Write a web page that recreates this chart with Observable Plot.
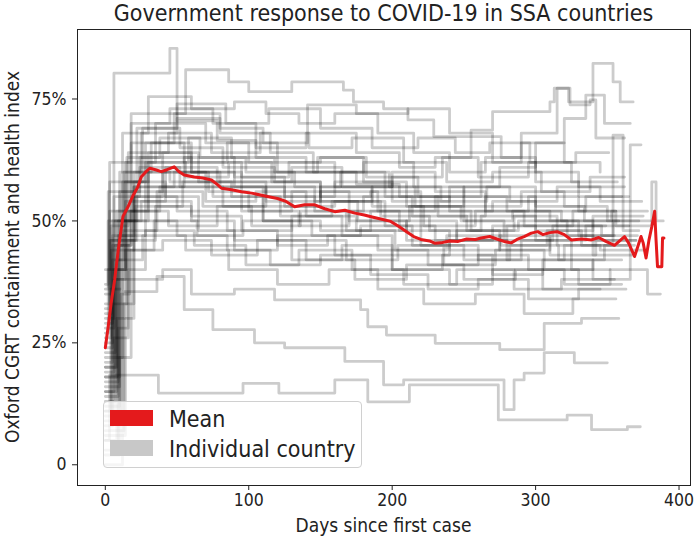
<!DOCTYPE html>
<html>
<head>
<meta charset="utf-8">
<script src="https://cdn.jsdelivr.net/npm/d3@7"></script>
<script src="https://cdn.jsdelivr.net/npm/@observablehq/plot@0.6"></script>
<style>
  body { margin: 0; background: #fff; }
  #wrap { position: relative; width: 698px; height: 541px; font-family: "DejaVu Sans", sans-serif; }
  #legend { position: absolute; left: 103px; top: 401px; width: 259px; height: 67px; border: 1px solid #d0d0d0; border-radius: 4px; background: rgba(255,255,255,0.8); box-sizing: border-box; }
  .sw { position: absolute; left: 6px; width: 43px; height: 16px; }
  .lt { position: absolute; left: 65px; font-size: 23px; color: #222; line-height: 26px; white-space: nowrap; transform: scaleX(0.9); transform-origin: 0 50%; }
</style>
</head>
<body>
<div id="wrap"></div>
<script>
// ---- Data ----
const titleText = "Government response to COVID-19 in SSA countries";
const xLabel = "Days since first case";
const yLabel = "Oxford CGRT containment and health index";
const xTicks = [0, 100, 200, 300, 400];
const yTicks = [0, 25, 50, 75];
const legendLabels = ["Mean", "Individual country"];

// Individual countries: [day, index %] change points (step lines)
const c01 = [[0,11],[4,30],[6,80.3],[45,85.4],[50,70.5],[78,66.5],[105,63],[140,60],[175,57.5],[205,55],[240,52],[270,54],[300,50],[330,47],[355,47]];
const c02 = [[0,20],[7,50],[18,72],[56,81],[86,78.5],[100,76.5],[130,78.5],[166,76.8],[173,74.4],[194,73],[211,70.7],[229,67.3],[276,63],[300,60],[330,57],[362,57]];
const c03 = [[0,25],[5,45],[12,68],[30,75.5],[60,73],[90,74.4],[112,72],[135,70],[160,72],[190,68],[215,64],[240,60],[265,63],[290,66],[320,62],[345,60]];
const c04 = [[0,18],[10,60],[25,68],[50,71],[80,69],[110,66],[141,73.8],[175,72],[211,73],[240,68],[270,62],[300,58],[330,55],[360,55]];
const c05 = [[0,5],[8,40],[14,62],[35,70],[70,66],[100,62],[150,63],[180,58],[210,53],[250,55],[280,52],[310,50],[340,46],[370,46]];
const c06 = [[0,30],[3,58],[28,66],[55,62],[85,66],[120,60],[160,57],[200,60],[230,56],[265,52],[295,55],[330,52],[356,52]];
const c07 = [[0,15],[6,38],[10,56],[40,64],[65,58],[95,52],[130,56],[170,50],[210,46],[245,48],[275,44],[310,47],[340,43],[368,43]];
const c08 = [[0,22],[12,48],[20,60],[45,58],[75,55],[110,50],[150,48],[185,52],[220,45],[260,42],[290,46],[325,40],[352,40]];
const c09 = [[0,8],[5,33],[15,50],[30,64],[60,60],[90,57],[125,53],[160,54],[195,49],[230,46],[270,49],[300,46],[335,49],[365,49]];
const c10 = [[0,12],[10,45],[18,66],[48,72],[80,68],[115,64],[145,60],[180,62],[215,57],[250,53],[290,56],[320,53],[350,50],[372,50]];
const c11 = [[0,35],[4,46],[22,55],[50,52],[85,48],[120,45],[155,47],[190,44],[225,41],[260,43],[295,40],[330,37],[360,37]];
const c12 = [[0,3],[9,28],[16,46],[35,53],[60,50],[90,46],[130,42],[165,45],[200,40],[240,37],[270,40],[305,36],[345,36]];
const c13 = [[0,27],[2,40],[14,58],[26,69],[52,65],[82,61],[118,58],[150,55],[185,56],[220,52],[255,48],[285,51],[315,49],[349,49]];
const c14 = [[0,10],[11,35],[17,52],[38,57],[70,54],[105,56],[140,51],[175,48],[210,50],[245,46],[280,49],[315,45],[345,44],[376,44]];
const c15 = [[0,0],[12,35.5],[36,38.6],[55,31.8],[75,27.7],[104,25],[125,24],[167,21.2],[194,16.4],[208,17.4],[278,11.3],[285,17.4],[292,18.8],[306,23],[327,20.9],[350,20.9]];
const c16 = [[0,5],[3,18.4],[37,14.7],[96,16.7],[121,14.7],[160,17.4],[183,12.9],[212,16.4],[274,9.2],[322,10.2],[339,7.2],[364,7.8],[373,7.8]];
const c17 = [[0,16],[10,38],[40,40],[60,35],[90,36],[118,33.8],[178,31.8],[183,28.3],[196,26.6],[230,24.9],[275,23.6],[306,29],[332,30],[358,30]];
const c18 = [[0,20],[8,52],[30,60],[70,57],[110,53],[150,56],[190,52],[230,55],[262,62],[290,68],[315,77.2],[323,74.4],[340,82.3],[354,78.5],[359,74.4],[368,74.4]];
const c19 = [[0,28],[6,55],[24,63],[60,60],[95,58],[130,61],[165,57],[200,59],[235,63],[255,68.6],[270,72.4],[310,74.4],[313,77.2],[324,73.8],[338,74.8],[342,67],[362,67]];
const c20 = [[0,14],[9,47],[20,57],[55,63],[90,59],[125,55],[160,58],[200,54],[240,57],[275,61],[300,66],[320,71],[335,75.8],[348,70],[366,70]];
const c21 = [[0,24],[5,50],[25,54],[60,51],[95,48],[130,51],[165,47],[200,43],[240,46],[280,42],[320,45],[354,67.6],[361,48],[372,48]];
const c22 = [[0,31],[4,44],[20,50],[50,47],[85,44],[120,47],[160,43],[200,40],[235,43],[270,39],[305,42],[340,38],[366,65.6],[373.5,65.6]];
const c23 = [[0,40],[3,62],[18,70],[45,73],[75,70],[105,65],[140,68],[175,64],[205,61],[230,63],[260,59],[295,62],[325,58],[357,58]];
const c24 = [[0,6],[14,30],[20,55],[40,60],[72,56],[100,52],[135,49],[170,52],[205,48],[240,44],[275,47],[310,43],[342,46],[370,46]];
const c25 = [[0,18],[8,42],[13,60],[32,66],[60,62],[95,59],[128,62],[160,60],[195,55],[232,51],[265,55],[300,52],[335,55],[365,55]];
const c26 = [[0,9],[6,26],[16,40],[28,48],[62,45],[98,41],[135,44],[172,40],[208,37],[245,40],[285,36],[318,38],[355,38]];
const c27 = [[0,33],[3,52],[20,58],[42,55],[65,48],[90,44],[115,41],[150,43],[185,39],[225,36],[260,38],[295,34],[330,36],[363,36]];
const c28 = [[0,21],[5,47],[28,62],[58,67],[88,63],[118,60],[148,63],[182,59],[218,55],[250,57],[282,54],[315,57],[345,54],[374,54]];
const c29 = [[0,13],[7,38],[14,54],[42,61],[78,58],[112,55],[146,52],[180,55],[214,51],[252,48],[288,50],[322,47],[354,50],[380,50]];
const c30 = [[0,26],[4,49],[16,64],[44,68],[74,64],[108,68],[142,65],[172,67],[208,62],[238,58],[270,60],[304,56],[338,59],[362,59]];
const c31 = [[0,37],[2,56],[24,61],[52,57],[82,53],[112,57],[146,54],[176,50],[212,53],[248,50],[278,46],[312,49],[346,47],[371,47]];
const c32 = [[0,2],[10,22],[18,44],[34,50],[64,47],[96,50],[130,46],[168,42],[204,45],[236,41],[272,44],[306,40],[340,42],[360,42]];
const c33 = [[0,17],[9,50],[22,69],[50,74],[84,70],[114,73],[150,69],[186,65],[218,67],[244,64],[268,66],[296,62],[328,64],[351,64]];
const c34 = [[0,29],[5,42],[26,47],[56,44],[86,40],[120,37],[156,40],[190,36],[222,33],[258,35],[292,31],[326,34],[356,34]];
const c35 = [[0,11],[4,36],[12,58],[30,62],[56,59],[86,62],[116,58],[150,54],[186,57],[216,53],[250,50],[284,52],[318,50],[353,52],[378,52]];
const c36 = [[0,23],[7,45],[18,52],[44,49],[78,53],[110,50],[144,47],[178,49],[214,45],[250,42],[282,45],[316,42],[348,45],[369,45]];
const c37 = [[0,7],[13,33],[20,48],[36,56],[68,53],[102,49],[136,52],[168,48],[202,44],[238,47],[276,45],[308,48],[340,51],[375,51]];
const c38 = [[0,19],[6,40],[15,63],[38,67],[66,63],[98,60],[132,57],[164,60],[198,57],[234,54],[266,57],[300,53],[334,50],[358,50]];
const c39 = [[0,32],[3,46],[21,53],[54,58],[88,55],[122,51],[158,54],[192,51],[226,48],[262,51],[300,48],[332,45],[364,45]];
const c40 = [[0,15],[8,30],[14,44],[40,46],[74,43],[106,46],[140,42],[174,38],[210,41],[250,38],[286,40],[320,37],[352,40],[378,35],[387,35]];
const c41 = [[0,36],[2,50],[20,57],[48,60],[80,57],[112,54],[150,57],[186,53],[222,49],[258,52],[292,49],[326,52],[356,49],[381,58],[384,50],[389,50]];

// Mean across countries: [day, index %]
const meanDays = [0,2,4,6.5,9,12.3,15.8,19,22.7,25,28,31,35,39,43,48,51,55,62,68,74,78,81,88,95,102,113,120,126,132,139,146,153,160,167,174,180.5,186,192,199,205,210,215,220,226,230,234,240,246,252,258,262,268,273,278,283,287,292,297,301.5,305,310,315,320,325,332,339,344,349,355,359,362,365,369,371,373.5,375,377,379,381,383,384,385,388,388.5,389.5];
const meanVals = [24,28.3,33,37.9,44,50.9,52.9,55,57,59,60,60.8,60.5,60.1,60.5,61.1,60.2,59.4,59,58.8,58.4,57.5,56.7,56.4,56,55.7,55,54.6,54,52.9,53.3,53.3,52.5,51.9,52.2,51.6,51.2,50.8,50.4,49.9,48.8,47.8,46.8,46.2,45.9,45.4,45.5,45.9,45.8,46.3,46.2,46.5,46.8,46.3,45.8,45.5,46.2,46.8,47.5,47.8,47.2,47.6,47.8,47.2,46.1,46.3,46.1,46.6,45.8,45,46,46.8,45.4,42.7,44.5,46.8,45.5,42.4,46,48.8,52,46,40.6,40.6,46.5,46.5];

const countries = [c01,c02,c03,c04,c05,c06,c07,c08,c09,c10,c11,c12,c13,c14,c15,c16,c17,c18,c19,c20,c21,c22,c23,c24,c25,c26,c27,c28,c29,c30,c31,c32,c33,c34,c35,c36,c37,c38,c39,c40,c41];

const rows = countries.flatMap((c, i) => c.map(([day, value]) => ({id: i, day, value})));
const meanRows = meanDays.map((day, i) => ({day, value: meanVals[i]}));

const MEAN_COLOR = "#e41a1c";
const W = 698, H = 541;
const chart = Plot.plot({
  width: W, height: H,
  marginLeft: 77, marginRight: 8, marginTop: 29, marginBottom: 56,
  style: {fontFamily: "DejaVu Sans, sans-serif", fontSize: "17.5px", color: "#222", background: "white"},
  x: {domain: [-19.4, 408], ticks: xTicks, tickFormat: d => String(d), tickSize: 5, tickPadding: 3, label: null},
  y: {domain: [-4.25, 89.25], ticks: yTicks, tickFormat: d => d === 0 ? "0" : d + "%", tickSize: 5, tickPadding: 6, label: null},
  marks: [
    Plot.line(rows, {x: "day", y: "value", z: "id", curve: "step-after", stroke: "black", strokeOpacity: 0.2, strokeWidth: 2.8}),
    Plot.line(meanRows, {x: "day", y: "value", stroke: MEAN_COLOR, strokeWidth: 3}),
    Plot.frame({stroke: "#222", strokeWidth: 1})
  ]
});

const wrap = document.getElementById("wrap");
wrap.appendChild(chart);
const svg = d3.select(chart);

// condense axis tick labels slightly (matches the reference's narrow glyphs)
svg.selectAll("g[aria-label*='axis'] text, g[aria-label*='tick label'] text").each(function() {
  const t = this.getAttribute("transform");
  if (t && /translate/.test(t)) {
    this.setAttribute("transform", t + " scale(0.9,1)");
  } else {
    const x = +this.getAttribute("x") || 0, y = +this.getAttribute("y") || 0;
    this.removeAttribute("x"); this.removeAttribute("y");
    this.setAttribute("transform", `translate(${x},${y}) scale(0.9,1)`);
  }
});

svg.append("text").attr("transform", "translate(383.5,21) scale(0.9,1)").attr("text-anchor", "middle")
  .attr("font-size", 23).attr("fill", "#222").text(titleText);
svg.append("text").attr("transform", "translate(383.5,532) scale(0.9,1)").attr("text-anchor", "middle")
  .attr("font-size", 19).attr("fill", "#222").text(xLabel);
svg.append("text").attr("transform", "translate(19,257) rotate(-90) scale(0.9,1)").attr("text-anchor", "middle")
  .attr("font-size", 19).attr("fill", "#222").text(yLabel);

const legend = document.createElement("div");
legend.id = "legend";
legend.innerHTML = `
  <div class="sw" style="top:8px;background:${MEAN_COLOR}"></div>
  <div class="lt" style="top:4px">${legendLabels[0]}</div>
  <div class="sw" style="top:38px;background:#c8c8c8"></div>
  <div class="lt" style="top:34px">${legendLabels[1]}</div>`;
wrap.appendChild(legend);
</script>
</body>
</html>
